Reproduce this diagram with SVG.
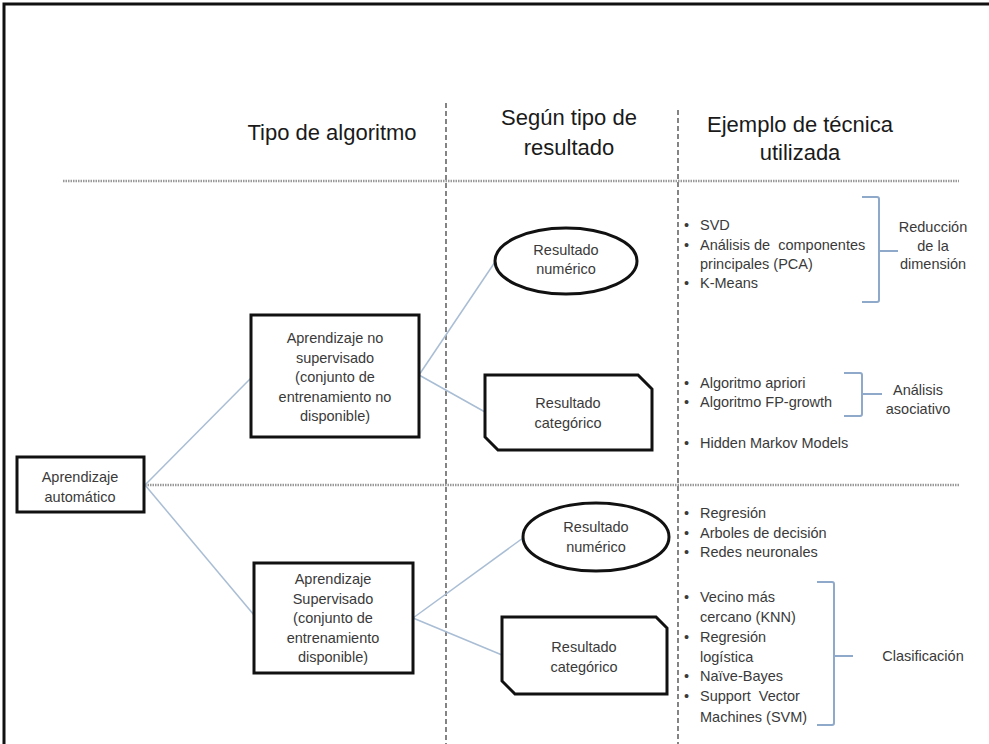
<svg xmlns="http://www.w3.org/2000/svg" width="989" height="744" viewBox="0 0 989 744">
<style>
.hdr{font-family:"Liberation Sans",Arial,sans-serif;font-size:22px;fill:#1a1a1a;text-anchor:middle}
.t{font-family:"Liberation Sans",Arial,sans-serif;font-size:14.5px;fill:#3a3a3a}
.c{text-anchor:middle}
.box{fill:#fff;stroke:#111;stroke-width:3}
.con{stroke:#a9bdd4;stroke-width:1.5;fill:none}
.br{stroke:#8ea9c9;stroke-width:2;fill:none}
.vd{stroke:#333;stroke-width:1.2;stroke-dasharray:5,3}
.hd{stroke:#999;stroke-width:2.5;stroke-dasharray:1.5,1}
</style>
<rect x="0" y="0" width="989" height="744" fill="#fff"/>
<rect x="4" y="4" width="992" height="745" fill="none" stroke="#111" stroke-width="3"/>

<g id="grid">
<line class="vd" x1="446" y1="103" x2="446" y2="744"/>
<line class="vd" x1="678" y1="110" x2="678" y2="744"/>
<line class="hd" x1="63" y1="181" x2="959" y2="181"/>
<line class="hd" x1="145" y1="485" x2="959" y2="485"/>
</g>

<g id="headers">
<text class="hdr" x="332" y="140">Tipo de algoritmo</text>
<text class="hdr" x="569" y="125">Según tipo de</text>
<text class="hdr" x="569" y="155">resultado</text>
<text class="hdr" x="800" y="132">Ejemplo de técnica</text>
<text class="hdr" x="800" y="160">utilizada</text>
</g>

<g id="connectors">
<line class="con" x1="145" y1="485" x2="251" y2="378"/>
<line class="con" x1="145" y1="485" x2="254" y2="615"/>
<line class="con" x1="419" y1="375" x2="495" y2="262"/>
<line class="con" x1="419" y1="375" x2="485" y2="412"/>
<line class="con" x1="413" y1="618" x2="523" y2="538"/>
<line class="con" x1="413" y1="618" x2="502" y2="655"/>
</g>

<g id="n-automatico">
<rect class="box" x="17" y="457" width="127" height="55"/>
<text class="t c" x="80" y="482">Aprendizaje</text>
<text class="t c" x="80" y="502">automático</text>
</g>

<g id="n-nosupervisado">
<rect class="box" x="251" y="315" width="168" height="122"/>
<text class="t c" x="335" y="343">Aprendizaje no</text>
<text class="t c" x="335" y="362.5">supervisado</text>
<text class="t c" x="335" y="382">(conjunto de</text>
<text class="t c" x="335" y="401.5">entrenamiento no</text>
<text class="t c" x="335" y="421">disponible)</text>
</g>

<g id="n-supervisado">
<rect class="box" x="254" y="563" width="159" height="110"/>
<text class="t c" x="333" y="584">Aprendizaje</text>
<text class="t c" x="333" y="603.5">Supervisado</text>
<text class="t c" x="333" y="623">(conjunto de</text>
<text class="t c" x="333" y="642.5">entrenamiento</text>
<text class="t c" x="333" y="662">disponible)</text>
</g>

<g id="n-num1">
<ellipse class="box" cx="566" cy="261" rx="71" ry="33"/>
<text class="t c" x="566" y="255">Resultado</text>
<text class="t c" x="566" y="274">numérico</text>
</g>

<g id="n-cat1">
<polygon class="box" points="485,375 638,375 652,389 652,450 498,450 485,437"/>
<text class="t c" x="568" y="408">Resultado</text>
<text class="t c" x="568" y="428">categórico</text>
</g>

<g id="n-num2">
<ellipse class="box" cx="596" cy="537" rx="73" ry="34"/>
<text class="t c" x="596" y="532">Resultado</text>
<text class="t c" x="596" y="552">numérico</text>
</g>

<g id="n-cat2">
<polygon class="box" points="502,617 656,617 667,628 667,694 515,694 502,681"/>
<text class="t c" x="584" y="652">Resultado</text>
<text class="t c" x="584" y="672">categórico</text>
</g>

<g id="list-reduccion">
<text class="t" x="684" y="230">•</text><text class="t" x="700" y="230">SVD</text>
<text class="t" x="684" y="249.5">•</text><text class="t" x="700" y="249.5">Análisis de&#160; componentes</text>
<text class="t" x="700" y="269">principales (PCA)</text>
<text class="t" x="684" y="288">•</text><text class="t" x="700" y="288">K-Means</text>
<path class="br" d="M862,197 H877 Q879,197 879,199 V300 Q879,302 877,302 H862 M879,251 H898"/>
<text class="t c" x="933" y="232">Reducción</text>
<text class="t c" x="933" y="250.5">de la</text>
<text class="t c" x="933" y="269">dimensión</text>
</g>

<g id="list-asociativo">
<text class="t" x="684" y="388">•</text><text class="t" x="700" y="388">Algoritmo apriori</text>
<text class="t" x="684" y="407">•</text><text class="t" x="700" y="407">Algoritmo FP-growth</text>
<path class="br" d="M844,373 H860 Q862,373 862,375 V414 Q862,416 860,416 H844 M862,394 H882"/>
<text class="t c" x="918" y="395">Análisis</text>
<text class="t c" x="918" y="414">asociativo</text>
<text class="t" x="684" y="448">•</text><text class="t" x="700" y="448">Hidden Markov Models</text>
</g>

<g id="list-regresion">
<text class="t" x="684" y="518">•</text><text class="t" x="700" y="518">Regresión</text>
<text class="t" x="684" y="538">•</text><text class="t" x="700" y="538">Arboles de decisión</text>
<text class="t" x="684" y="557">•</text><text class="t" x="700" y="557">Redes neuronales</text>
</g>

<g id="list-clasificacion">
<text class="t" x="684" y="602">•</text><text class="t" x="700" y="602">Vecino más</text>
<text class="t" x="700" y="622">cercano (KNN)</text>
<text class="t" x="684" y="642">•</text><text class="t" x="700" y="642">Regresión</text>
<text class="t" x="700" y="662">logística</text>
<text class="t" x="684" y="681">•</text><text class="t" x="700" y="681">Naïve-Bayes</text>
<text class="t" x="684" y="701">•</text><text class="t" x="700" y="701">Support&#160; Vector</text>
<text class="t" x="700" y="722">Machines (SVM)</text>
<path class="br" d="M817,582 H832 Q834,582 834,584 V723 Q834,725 832,725 H817 M834,656 H853"/>
<text class="t c" x="923" y="661">Clasificación</text>
</g>
</svg>
